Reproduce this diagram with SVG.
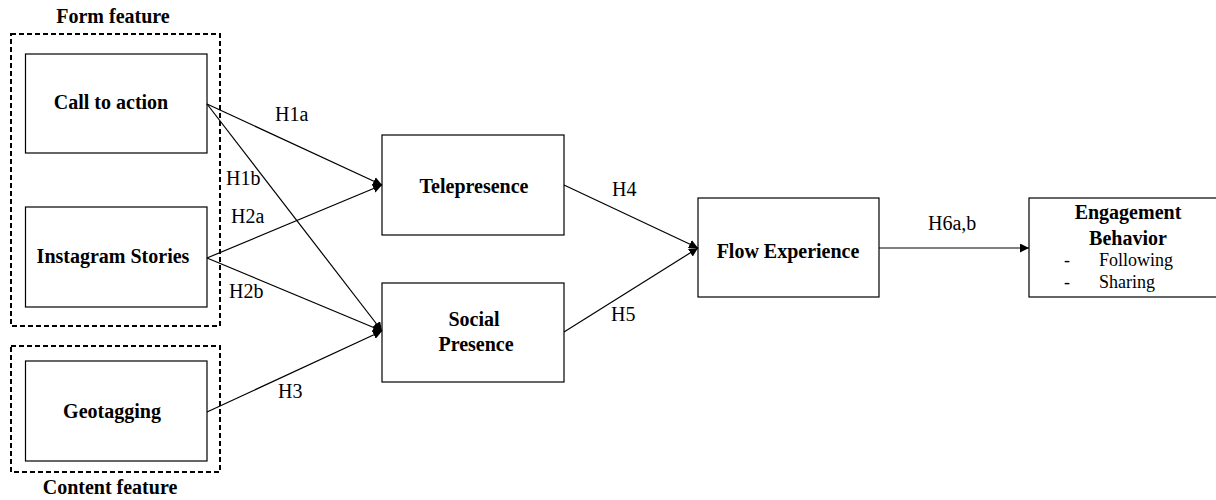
<svg xmlns="http://www.w3.org/2000/svg" width="1216" height="500" viewBox="0 0 1216 500">
<style>
.box{fill:#fff;stroke:#000;stroke-width:1.2}
.grp{fill:none;stroke:#000;stroke-width:2;stroke-dasharray:5,3}
.b{font-family:"Liberation Serif",serif;font-weight:bold;font-size:20px;text-anchor:middle;fill:#000}
.r{font-family:"Liberation Serif",serif;font-size:20px;fill:#000}
.s{font-family:"Liberation Serif",serif;font-size:18px;fill:#000}
.edge{stroke:#000;stroke-width:1.2;fill:none;marker-end:url(#ah)}
</style>
<defs>
<marker id="ah" viewBox="0 0 10 10" refX="10" refY="5" markerWidth="9" markerHeight="9" markerUnits="userSpaceOnUse" orient="auto">
<path d="M0,0 L10,5 L0,10 z" fill="#000"/>
</marker>
</defs>
<rect width="1216" height="500" fill="#fff"/>
<g id="form-feature">
<rect class="grp" x="11" y="34" width="209" height="292"/>
<text class="b" x="113" y="23">Form feature</text>
</g>
<g id="content-feature">
<rect class="grp" x="11" y="346" width="209" height="126"/>
<text class="b" x="110" y="494">Content feature</text>
</g>
<g id="call-to-action">
<rect class="box" x="25.5" y="54" width="181.5" height="99"/>
<text class="b" x="111" y="109">Call to action</text>
</g>
<g id="instagram-stories">
<rect class="box" x="25.5" y="207" width="181.5" height="100"/>
<text class="b" x="113" y="263">Instagram Stories</text>
</g>
<g id="geotagging">
<rect class="box" x="25.5" y="361" width="181.5" height="100"/>
<text class="b" x="112" y="418">Geotagging</text>
</g>
<g id="telepresence">
<rect class="box" x="382" y="135" width="182" height="100"/>
<text class="b" x="474" y="193">Telepresence</text>
</g>
<g id="social-presence">
<rect class="box" x="382" y="283" width="182" height="99"/>
<text class="b" x="474" y="326">Social</text>
<text class="b" x="476" y="351">Presence</text>
</g>
<g id="flow-experience">
<rect class="box" x="698" y="198" width="181" height="99"/>
<text class="b" x="788" y="258">Flow Experience</text>
</g>
<g id="engagement-behavior">
<rect class="box" x="1029" y="198" width="200" height="99"/>
<text class="b" x="1128" y="219">Engagement</text>
<text class="b" x="1128" y="245">Behavior</text>
<text class="s" x="1064" y="266">-</text>
<text class="s" x="1099" y="266">Following</text>
<text class="s" x="1064" y="288">-</text>
<text class="s" x="1099" y="288">Sharing</text>
</g>
<g id="connectors">
<line class="edge" x1="207" y1="104" x2="382" y2="185"/>
<line class="edge" x1="207" y1="104" x2="382" y2="331"/>
<line class="edge" x1="207" y1="258" x2="382" y2="185"/>
<line class="edge" x1="207" y1="258" x2="382" y2="331"/>
<line class="edge" x1="207" y1="412" x2="382" y2="331"/>
<line class="edge" x1="564" y1="185" x2="698" y2="248"/>
<line class="edge" x1="564" y1="332" x2="698" y2="248"/>
<line class="edge" x1="879" y1="248" x2="1029" y2="248"/>
<text class="r" x="275" y="121">H1a</text>
<text class="r" x="226" y="185">H1b</text>
<text class="r" x="231" y="223">H2a</text>
<text class="r" x="229" y="298">H2b</text>
<text class="r" x="278" y="398">H3</text>
<text class="r" x="612" y="196">H4</text>
<text class="r" x="611" y="321">H5</text>
<text class="r" x="928" y="230">H6a,b</text>
</g>
</svg>
